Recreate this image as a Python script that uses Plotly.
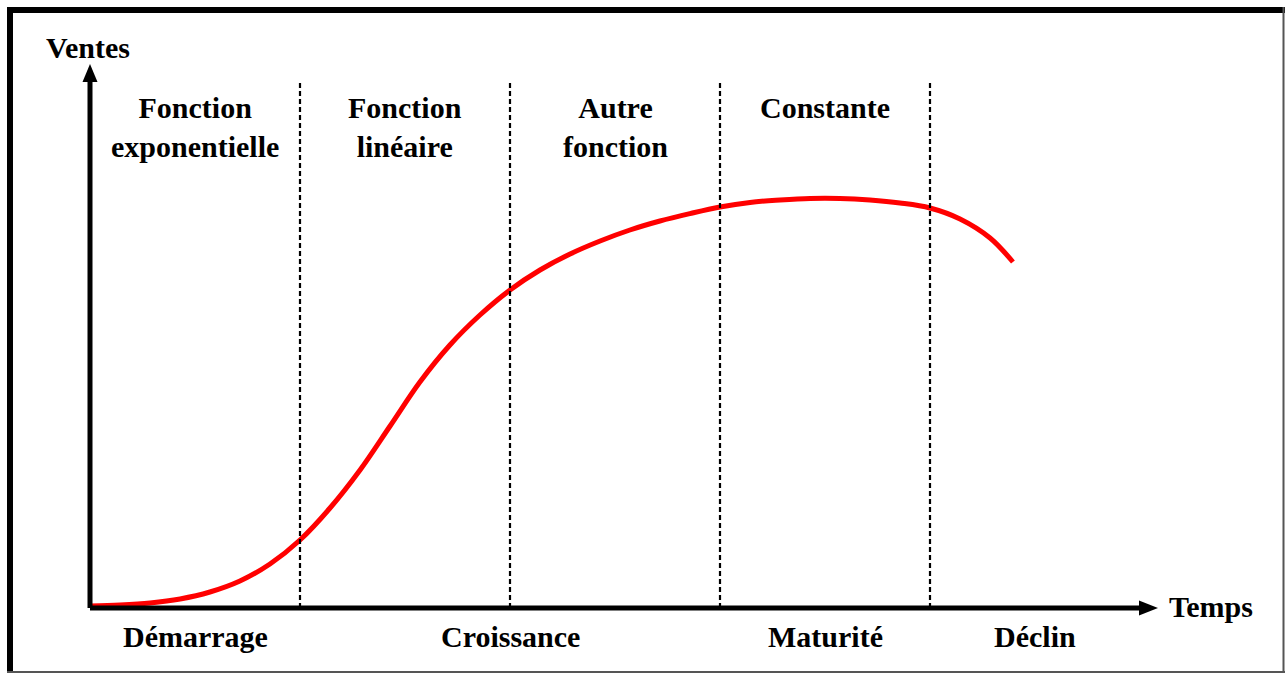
import plotly.graph_objects as go

# ---- data (time units: one unit per phase column; sales in arbitrary units) ----
curve_t = [0, 0.143, 0.286, 0.429, 0.571, 0.714, 0.857, 1.0, 1.143, 1.286, 1.429, 1.571,
           1.714, 1.857, 2.0, 2.143, 2.286, 2.429, 2.571, 2.714, 2.857, 3.0, 3.143, 3.286,
           3.429, 3.571, 3.714, 3.857, 4.0, 4.143, 4.286, 4.395]
curve_v = [0.5, 0.75, 1.25, 2.25, 4.0, 6.75, 11.0, 17.0, 25.0, 34.5, 45.5, 56.5,
           65.75, 73.25, 79.5, 84.5, 88.5, 91.75, 94.5, 96.75, 98.6, 100.25, 101.4, 102,
           102.4, 102.4, 102, 101.25, 100, 97.25, 92.5, 86.5]

boundaries = [1, 2, 3, 4]
function_labels = ["Fonction<br>exponentielle", "Fonction<br>linéaire", "Autre<br>fonction", "Constante"]
function_pos = [0.5, 1.5, 2.5, 3.5]
phase_labels = ["Démarrage", "Croissance", "Maturité", "Déclin"]
phase_pos = [0.5, 2.0, 3.5, 4.5]
x_title = "Temps"
y_title = "Ventes"

# ---- layout geometry ----
W, H = 1286, 675
PX_PER_T = 210.0
PX_PER_V = 4.0
X0PX, Y0PX = 90, 608
xr = [-X0PX / PX_PER_T, (W - X0PX) / PX_PER_T]
yr = [(Y0PX - H) / PX_PER_V, Y0PX / PX_PER_V]

def tx(px):
    return (px - X0PX) / PX_PER_T

def vy(py):
    return (Y0PX - py) / PX_PER_V

FONT = dict(family="Liberation Serif, Times New Roman, serif", size=30, color="black")

fig = go.Figure()
fig.add_trace(go.Scatter(x=curve_t, y=curve_v, mode="lines",
                         line=dict(color="#ff0000", width=5, shape="spline", smoothing=1.0),
                         hoverinfo="skip", showlegend=False))

shapes = []
# dashed phase boundaries
for b in boundaries:
    shapes.append(dict(type="line", xref="x", yref="y", x0=b, x1=b, y0=0, y1=vy(80),
                       line=dict(color="#000000", width=2.2, dash="5px,3px")))

# axes
shapes.append(dict(type="line", xref="x", yref="y", x0=0, x1=0, y0=0, y1=vy(80),
                   line=dict(color="black", width=5)))
shapes.append(dict(type="line", xref="x", yref="y", x0=0, x1=tx(1142), y0=0, y1=0,
                   line=dict(color="black", width=5)))
# arrowheads
hw_t = 7.5 / PX_PER_T
hw_v = 7.5 / PX_PER_V
shapes.append(dict(type="path", xref="x", yref="y",
                   path=f"M {-hw_t},{vy(82)} L {hw_t},{vy(82)} L 0,{vy(64)} Z",
                   fillcolor="black", line=dict(color="black", width=0)))
shapes.append(dict(type="path", xref="x", yref="y",
                   path=f"M {tx(1139)},{-hw_v} L {tx(1139)},{hw_v} L {tx(1158)},0 Z",
                   fillcolor="black", line=dict(color="black", width=0)))

# frame
shapes.append(dict(type="line", xref="paper", yref="paper", x0=7 / W, x1=1285 / W,
                   y0=1 - 10 / H, y1=1 - 10 / H, line=dict(color="black", width=6)))
shapes.append(dict(type="line", xref="paper", yref="paper", x0=10 / W, x1=10 / W,
                   y0=1 - 7 / H, y1=1 - 673 / H, line=dict(color="black", width=6)))
shapes.append(dict(type="line", xref="paper", yref="paper", x0=1283.5 / W, x1=1283.5 / W,
                   y0=1 - 7 / H, y1=1 - 673 / H, line=dict(color="#555555", width=2)))
shapes.append(dict(type="line", xref="paper", yref="paper", x0=7 / W, x1=1285 / W,
                   y0=1 - 672 / H, y1=1 - 672 / H, line=dict(color="#555555", width=2)))

annotations = []
for lab, p in zip(function_labels, function_pos):
    annotations.append(dict(x=p, y=vy(89), xref="x", yref="y", text=f"<b>{lab}</b>",
                            showarrow=False, xanchor="center", yanchor="top", font=FONT))
for lab, p in zip(phase_labels, phase_pos):
    annotations.append(dict(x=p, y=vy(636), xref="x", yref="y", text=f"<b>{lab}</b>",
                            showarrow=False, xanchor="center", yanchor="middle", font=FONT))
annotations.append(dict(x=tx(1211), y=vy(606), xref="x", yref="y", text=f"<b>{x_title}</b>",
                        showarrow=False, xanchor="center", yanchor="middle", font=FONT))
annotations.append(dict(x=tx(88), y=vy(47), xref="x", yref="y", text=f"<b>{y_title}</b>",
                        showarrow=False, xanchor="center", yanchor="middle", font=FONT))

fig.update_layout(
    width=W, height=H,
    margin=dict(l=0, r=0, t=0, b=0),
    paper_bgcolor="white", plot_bgcolor="white",
    xaxis=dict(range=xr, visible=False, fixedrange=True),
    yaxis=dict(range=yr, visible=False, fixedrange=True),
    shapes=shapes, annotations=annotations,
    showlegend=False,
)

fig.write_html("out.html", config={"displayModeBar": False},
               post_script="document.body.style.margin='0';document.body.style.overflow='hidden';")
